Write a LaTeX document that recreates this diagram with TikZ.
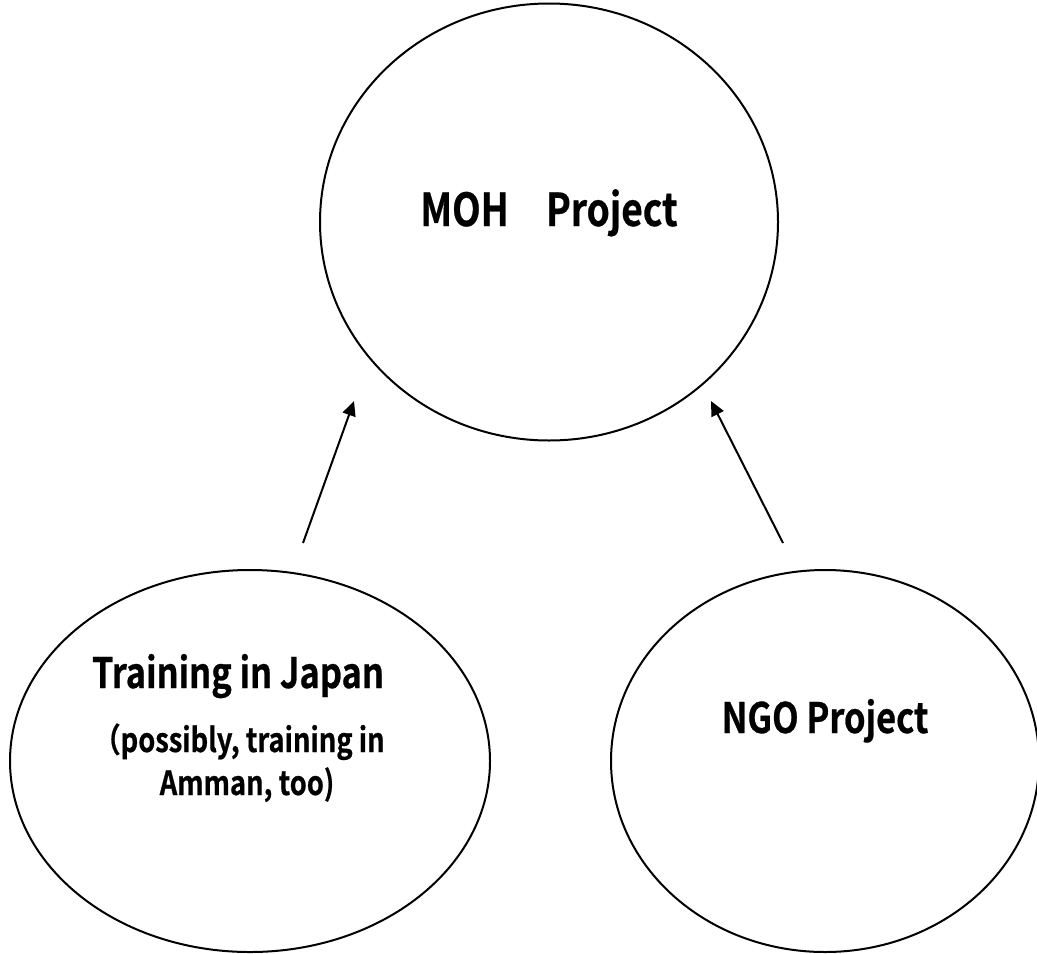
\documentclass[tikz,border=0pt]{standalone}
\usepackage{fontspec}
\usetikzlibrary{shapes.geometric,arrows.meta}
\newfontfamily\gothic[FakeStretch=0.82,FakeBold=0.6]{Noto Sans CJK JP Bold}
\tikzset{
  bubble/.style={draw, line width=1.5pt, ellipse, inner sep=0pt, outer sep=0pt},
  titletext/.style={anchor=base, inner sep=0pt, font=\gothic\fontsize{34}{40}\selectfont},
  bigtext/.style={anchor=base, inner sep=0pt, font=\gothic\fontsize{31.5}{36}\selectfont},
  smalltext/.style={anchor=base, inner sep=0pt, font=\gothic\fontsize{25}{30}\selectfont},
  feeds/.style={line width=1.5pt, -{Triangle[length=11pt,width=10pt]}}
}
\begin{document}
\begin{tikzpicture}[x=0.75pt,y=-0.75pt]
  \useasboundingbox (0,0) rectangle (1037,953);
  \fill[white] (0,0) rectangle (1037,953);

  % the three project bubbles (sizes in pt: 0.75pt per unit)
  \node[bubble, minimum width=343.5pt, minimum height=327.75pt] (moh) at (549,222) {};
  \node[bubble, minimum width=360pt, minimum height=286.5pt] (train) at (250,761) {};
  \node[bubble, minimum width=321pt, minimum height=286.5pt] (ngo) at (825,761) {};

  % labels
  \node[titletext] (mohlabel) at (549,226) {MOH　Project};
  \node[bigtext] (trainlabel) at (238,688) {Training in Japan};
  \node[smalltext] (trainnote1) at (239,752) {（possibly, training in};
  \node[smalltext] (trainnote2) at (247,795) {Amman, too)};
  \node[bigtext] (ngolabel) at (825,733) {NGO Project};

  % free-standing arrows pointing up to the MOH bubble
  \coordinate (lt) at (303,543);
  \coordinate (lh) at (354,401);
  \coordinate (rt) at (783,543);
  \coordinate (rh) at (711,401);
  \draw[feeds] (lt) -- (lh);
  \draw[feeds] (rt) -- (rh);
\end{tikzpicture}
\end{document}
